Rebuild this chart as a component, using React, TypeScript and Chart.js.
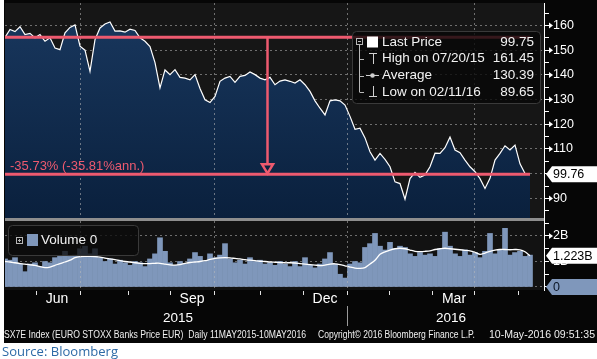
import React, { useEffect, useLayoutEffect, useRef } from 'react';
import { Chart, registerables } from 'chart.js';

Chart.register(...registerables);

// ---------- data ----------
// one value every ~2.5 trading days, 11 May 2015 -> 10 May 2016
const priceValues = [
  155.2, 158.4, 157.5, 159.5, 156.3, 156.8, 155.0, 156.3, 153.6, 155.0,
  150.9, 150.2, 157.0, 159.2, 160.2, 151.6, 150.0, 141.4, 154.3, 159.0,
  160.6, 161.45, 157.7, 157.8, 157.3, 158.5, 158.0, 155.0, 153.6, 151.5,
  145.0, 134.7, 142.0, 140.1, 142.1, 139.0, 138.7, 138.0, 140.1, 134.5,
  129.9, 128.8, 131.3, 137.4, 138.7, 139.4, 137.0, 139.4, 139.8, 141.2,
  140.1, 138.7, 138.0, 139.0, 136.0, 137.5, 138.0, 137.4, 136.7, 138.0,
  136.0, 133.3, 129.5, 126.5, 123.8, 129.5, 129.9, 129.5, 127.8, 123.2,
  118.0, 118.4, 114.5, 108.9, 105.5, 108.2, 105.8, 102.8, 96.7, 96.0,
  89.65, 98.0, 100.5, 98.5, 99.5, 102.8, 108.3, 108.2, 110.5, 114.8,
  109.6, 108.5, 105.5, 102.8, 100.8, 98.0, 94.0, 98.1, 105.5, 108.2,
  111.3, 109.6, 111.6, 104.0, 100.1, 99.75,
];

// volume in billions
const volumeValues = [
  1.1, 1.05, 1.15, 0.9, 0.6, 0.9, 0.95, 0.8, 1.0, 0.95,
  1.15, 1.2, 1.4, 1.2, 1.25, 1.5, 1.6, 1.3, 1.5, 1.15,
  1.0, 1.1, 0.9, 1.05, 0.95, 0.85, 1.0, 0.95, 0.8, 1.1,
  1.3, 1.93, 1.4, 0.95, 0.85, 1.0, 0.9, 1.1, 1.35, 1.2,
  1.0, 1.3, 1.15, 1.25, 1.7, 1.1, 0.95, 1.05, 0.9, 1.15,
  1.0, 1.05, 0.9, 0.95, 0.85, 1.0, 0.9, 0.8, 1.0, 0.8,
  1.15, 0.85, 0.75, 0.9, 1.1, 1.35, 0.9, 0.5, 0.35, 0.9,
  1.0, 0.95, 1.55, 1.7, 2.1, 1.6, 1.45, 1.75, 1.5, 1.6,
  1.55, 1.3, 1.2, 1.35, 1.25, 1.3, 1.2, 1.5, 2.15, 1.6,
  1.3, 1.2, 1.45, 1.25, 1.35, 1.15, 1.4, 2.1, 1.3, 1.45,
  2.3, 1.25, 1.35, 1.4, 1.2, 1.25,
];

// volume moving average in billions
const volumeAvg = [
  1.0, 0.98, 0.95, 0.92, 0.9, 0.87, 0.85, 0.8, 0.76, 0.78,
  0.85, 0.92, 0.98, 1.05, 1.15, 1.19, 1.2, 1.2, 1.19, 1.17,
  1.13, 1.1, 1.07, 1.03, 1.0, 0.98, 0.95, 0.93, 0.92, 0.92,
  0.93, 0.93, 0.9, 0.87, 0.86, 0.88, 0.93, 0.96, 0.98, 1.0,
  1.03, 1.08, 1.12, 1.14, 1.15, 1.14, 1.12, 1.1, 1.07, 1.05,
  1.03, 1.01, 1.0, 0.98, 0.97, 0.96, 0.95, 0.95, 0.94, 0.92,
  0.9, 0.88, 0.86, 0.84, 0.86, 0.9, 0.91, 0.88, 0.83, 0.78,
  0.74, 0.73, 0.76, 0.9, 1.05, 1.28, 1.38, 1.45, 1.5, 1.52,
  1.5, 1.45, 1.4, 1.39, 1.4, 1.42, 1.47, 1.5, 1.52, 1.5,
  1.48, 1.46, 1.44, 1.42, 1.36, 1.28, 1.33, 1.4, 1.45, 1.47,
  1.47, 1.46, 1.47, 1.46, 1.38, 1.223,
];

// positions on the sample index axis
const monthStarts = [6.2, 14.9, 24.6, 33, 41.7, 51, 59.6, 68.3, 76.8, 85.4, 93.7, 102.6];
const quarterStarts = [14.9, 41.7, 68.3, 93.7];
const monthLabels = ['Jun', 'Sep', 'Dec', 'Mar'];
const monthLabelPos = [10.4, 37.4, 64, 89.8];
const yearLabels = ['2015', '2016'];
const yearLabelPos = [34.6, 89.2];
const yearBreak = 68.3;

const legendLabels = ['Last Price', 'High on 07/20/15', 'Average', 'Low on 02/11/16'];
const legendValues = ['99.75', '161.45', '130.39', '89.65'];
const lastPriceTag = '99.76';
const lastPriceTagValue = 99.76;
const changeLabel = '-35.73% (-35.81%ann.)';
const volumeLegend = 'Volume 0';
const volumeAvgTag = '1.223B';
const volumeNowTag = '0';
const volumeNowValue = 0;

const footer1 = 'SX7E Index (EURO STOXX Banks Price EUR)  Daily 11MAY2015-10MAY2016';
const footer2 = 'Copyright\u00A9 2016 Bloomberg Finance L.P.';
const footer3 = '10-May-2016 09:51:35';
const sourceText = 'Source: Bloomberg';

// ---------- styling ----------
const FONT = '"Liberation Sans", Arial, Helvetica, sans-serif';
const X_MIN = 0;
const X_MAX = 107.8;
const PRICE_MIN = 82.06;
const PRICE_MAX = 169.1;
const VOL_MIN = -0.118;
const VOL_MAX = 2.588;
const PINK = '#ee5a6f';
const GRID = 'rgba(185,185,185,0.55)';
const VOL_BLUE = '#7f97bb';
const AXIS_W = 53;

function rr(ctx: CanvasRenderingContext2D, x: number, y: number, w: number, h: number, r: number) {
  ctx.beginPath();
  ctx.moveTo(x + r, y);
  ctx.lineTo(x + w - r, y);
  ctx.quadraticCurveTo(x + w, y, x + w, y + r);
  ctx.lineTo(x + w, y + h - r);
  ctx.quadraticCurveTo(x + w, y + h, x + w - r, y + h);
  ctx.lineTo(x + r, y + h);
  ctx.quadraticCurveTo(x, y + h, x, y + h - r);
  ctx.lineTo(x, y + r);
  ctx.quadraticCurveTo(x, y, x + r, y);
  ctx.closePath();
}

function seg(ctx: CanvasRenderingContext2D, x1: number, y1: number, x2: number, y2: number) {
  ctx.beginPath();
  ctx.moveTo(x1, y1);
  ctx.lineTo(x2, y2);
  ctx.stroke();
}

function drawTag(ctx: CanvasRenderingContext2D, x: number, y: number, fill: string, text: string, color: string) {
  const h = 16;
  const w = 597 - x;
  ctx.save();
  ctx.beginPath();
  ctx.moveTo(x, y);
  ctx.lineTo(x + 6, y - h / 2);
  ctx.lineTo(x + w, y - h / 2);
  ctx.lineTo(x + w, y + h / 2);
  ctx.lineTo(x + 6, y + h / 2);
  ctx.closePath();
  ctx.fillStyle = fill;
  ctx.fill();
  ctx.fillStyle = color;
  ctx.font = `12.5px ${FONT}`;
  ctx.textAlign = 'left';
  ctx.textBaseline = 'middle';
  ctx.fillText(text, x + 7, y + 0.5);
  ctx.restore();
}

function drawPointers(chart: any, test: (v: number) => boolean) {
  const s = chart.scales.y;
  const ctx = chart.ctx as CanvasRenderingContext2D;
  ctx.save();
  ctx.fillStyle = '#ffffff';
  s.ticks.forEach((t: any) => {
    if (!test(t.value)) return;
    const py = s.getPixelForValue(t.value);
    const x = s.left + 5;
    ctx.beginPath();
    ctx.moveTo(x, py - 3);
    ctx.lineTo(x + 4, py);
    ctx.lineTo(x, py + 3);
    ctx.closePath();
    ctx.fill();
  });
  ctx.restore();
}

function drawQuarterLines(chart: any) {
  const { ctx, chartArea: a, scales } = chart;
  ctx.save();
  ctx.strokeStyle = GRID;
  ctx.lineWidth = 1;
  ctx.setLineDash([2, 3]);
  quarterStarts.forEach((q) => {
    const px = Math.round(scales.x.getPixelForValue(q)) + 0.5;
    seg(ctx, px, a.top, px, a.bottom);
  });
  ctx.restore();
}

const pricePlugin = {
  id: 'priceDecor',
  beforeDraw(chart: any) {
    const { ctx, chartArea: a } = chart;
    ctx.save();
    ctx.fillStyle = '#161616';
    ctx.fillRect(a.left, a.top, a.right - a.left, a.bottom - a.top);
    ctx.restore();
  },
  afterDatasetsDraw(chart: any) {
    drawQuarterLines(chart);
  },
  afterDraw(chart: any) {
    const ctx = chart.ctx as CanvasRenderingContext2D;
    const a = chart.chartArea;
    const xs = chart.scales.x;
    const ys = chart.scales.y;
    const n = priceValues.length;
    const x0 = xs.getPixelForValue(0);
    const x1 = xs.getPixelForValue(n - 1);
    const yTop = ys.getPixelForValue(priceValues[0]);
    const yBot = ys.getPixelForValue(priceValues[n - 1]);
    const xm = xs.getPixelForValue((n - 1) / 2);

    ctx.save();
    ctx.strokeStyle = PINK;
    ctx.lineWidth = 2.5;
    seg(ctx, xm, yTop, xm, yBot - 10);
    ctx.beginPath();
    ctx.moveTo(xm - 5.5, yBot - 10);
    ctx.lineTo(xm + 5.5, yBot - 10);
    ctx.lineTo(xm, yBot - 1);
    ctx.closePath();
    ctx.fillStyle = '#0c2240';
    ctx.fill();
    ctx.stroke();
    ctx.lineWidth = 3;
    seg(ctx, x0, yTop, x1, yTop);
    seg(ctx, x0, yBot, x1, yBot);
    ctx.fillStyle = PINK;
    ctx.font = `13px ${FONT}`;
    ctx.textAlign = 'left';
    ctx.textBaseline = 'alphabetic';
    ctx.fillText(changeLabel, a.left + 5, yBot - 4.5);
    ctx.restore();

    // legend box
    ctx.save();
    rr(ctx, 352.5, 31.5, 188, 72, 4);
    ctx.fillStyle = 'rgba(8,8,8,0.8)';
    ctx.fill();
    ctx.strokeStyle = '#3a3a3a';
    ctx.lineWidth = 1;
    ctx.stroke();
    const rowsY = [42, 58.5, 75.5, 92];
    ctx.strokeStyle = '#b8b8b8';
    ctx.lineWidth = 1;
    // collapse box
    ctx.strokeRect(356.5, 38.5, 6, 6);
    seg(ctx, 358, 41.5, 361, 41.5);
    // tree
    seg(ctx, 359.5, 45, 359.5, rowsY[3]);
    [rowsY[1], rowsY[2], rowsY[3]].forEach((ry) => seg(ctx, 359.5, Math.round(ry) + 0.5, 364, Math.round(ry) + 0.5));
    // white square
    ctx.fillStyle = '#ffffff';
    ctx.fillRect(367, 36.5, 11, 11);
    // high icon
    ctx.strokeStyle = '#d0d0d0';
    seg(ctx, 369, 53.5, 377, 53.5);
    seg(ctx, 373.5, 53.5, 373.5, 64);
    // average icon
    seg(ctx, 366, 75.5, 379, 75.5);
    ctx.beginPath();
    ctx.arc(372.5, 75.5, 2.3, 0, Math.PI * 2);
    ctx.fillStyle = '#d0d0d0';
    ctx.fill();
    // low icon
    seg(ctx, 373.5, 86, 373.5, 96.5);
    seg(ctx, 369, 96.5, 377, 96.5);
    ctx.fillStyle = '#f2f2f2';
    ctx.font = `13.5px ${FONT}`;
    ctx.textBaseline = 'middle';
    legendLabels.forEach((lab, i) => {
      ctx.textAlign = 'left';
      ctx.fillText(lab, 382, rowsY[i]);
      ctx.textAlign = 'right';
      ctx.fillText(legendValues[i], 534, rowsY[i]);
    });
    ctx.restore();

    drawPointers(chart, (v) => v % 10 === 0);
    drawTag(ctx, ys.right - AXIS_W + 2, ys.getPixelForValue(lastPriceTagValue), '#ffffff', lastPriceTag, '#000000');
  },
};

const volumePlugin = {
  id: 'volumeDecor',
  beforeDraw(chart: any) {
    const { ctx, chartArea: a } = chart;
    ctx.save();
    ctx.fillStyle = '#121212';
    ctx.fillRect(a.left, a.top, a.right - a.left, a.bottom - a.top);
    ctx.fillStyle = '#8e8e8e';
    ctx.fillRect(a.left, 0, a.right - a.left, a.top);
    ctx.fillStyle = '#ffffff';
    ctx.fillRect(Math.round(a.right), 0, 1, a.top);
    ctx.restore();
  },
  afterDatasetsDraw(chart: any) {
    drawQuarterLines(chart);
  },
  afterDraw(chart: any) {
    const ctx = chart.ctx as CanvasRenderingContext2D;
    const a = chart.chartArea;
    const xs = chart.scales.x;
    const ys = chart.scales.y;

    // legend
    ctx.save();
    rr(ctx, 8.5, 7.5, 130, 30, 4);
    ctx.fillStyle = 'rgba(10,10,10,0.78)';
    ctx.fill();
    ctx.strokeStyle = '#3a3a3a';
    ctx.lineWidth = 1;
    ctx.stroke();
    ctx.strokeStyle = '#b8b8b8';
    ctx.strokeRect(16.5, 19.5, 6, 6);
    seg(ctx, 18, 22.5, 21, 22.5);
    seg(ctx, 19.5, 21, 19.5, 24);
    ctx.fillStyle = VOL_BLUE;
    ctx.fillRect(27, 16, 11, 12);
    ctx.fillStyle = '#f2f2f2';
    ctx.font = `13.5px ${FONT}`;
    ctx.textAlign = 'left';
    ctx.textBaseline = 'middle';
    ctx.fillText(volumeLegend, 41, 22.5);
    ctx.restore();

    drawPointers(chart, (v) => v === 2);
    const tagX = ys.right - AXIS_W + 2;
    drawTag(ctx, tagX, ys.getPixelForValue(volumeAvg[volumeAvg.length - 1]), '#ffffff', volumeAvgTag, '#000000');
    drawTag(ctx, tagX, ys.getPixelForValue(volumeNowValue), VOL_BLUE, volumeNowTag, '#0b1626');

    // time axis
    ctx.save();
    ctx.strokeStyle = '#e0e0e0';
    ctx.lineWidth = 1;
    monthStarts.forEach((m) => {
      const px = Math.round(xs.getPixelForValue(m)) + 0.5;
      seg(ctx, px, a.bottom + 1, px, a.bottom + 5);
    });
    ctx.strokeStyle = '#9a9a9a';
    const yb = Math.round(xs.getPixelForValue(yearBreak)) + 0.5;
    seg(ctx, yb, a.bottom + 16, yb, a.bottom + 36);
    ctx.fillStyle = '#ffffff';
    ctx.textAlign = 'center';
    ctx.textBaseline = 'middle';
    ctx.font = `14px ${FONT}`;
    monthLabels.forEach((m, i) => ctx.fillText(m, xs.getPixelForValue(monthLabelPos[i]), a.bottom + 9));
    ctx.font = `13.5px ${FONT}`;
    yearLabels.forEach((y, i) => ctx.fillText(y, xs.getPixelForValue(yearLabelPos[i]), a.bottom + 28));
    ctx.restore();
  },
};

function axisFit(scale: any) {
  scale.width = AXIS_W;
  scale.paddingTop = 0;
  scale.paddingBottom = 0;
  scale.paddingLeft = 0;
  scale.paddingRight = 0;
}

function FitText(props: { text: string; left: number; top: number; width: number; font: string; color: string }) {
  const ref = useRef<HTMLSpanElement>(null);
  useLayoutEffect(() => {
    const el = ref.current;
    if (!el) return;
    el.style.transform = 'none';
    const w = el.getBoundingClientRect().width;
    if (w > 0) el.style.transform = `scaleX(${props.width / w})`;
  }, [props.text, props.width]);
  return (
    <span
      ref={ref}
      style={{
        position: 'absolute',
        left: props.left,
        top: props.top,
        whiteSpace: 'pre',
        transformOrigin: '0 0',
        font: props.font,
        color: props.color,
        lineHeight: 1,
      }}
    >
      {props.text}
    </span>
  );
}

export default function App() {
  const priceRef = useRef<HTMLCanvasElement>(null);
  const volRef = useRef<HTMLCanvasElement>(null);

  useEffect(() => {
    const priceChart = new Chart(priceRef.current as HTMLCanvasElement, {
      type: 'line',
      data: {
        datasets: [
          {
            data: priceValues.map((v, i) => ({ x: i, y: v })),
            borderColor: '#ffffff',
            borderWidth: 1.2,
            pointRadius: 0,
            tension: 0,
            fill: 'start',
            backgroundColor: (c: any) => {
              const { chart } = c;
              const area = chart.chartArea;
              if (!area) return '#0f2a4c';
              const g = chart.ctx.createLinearGradient(0, area.top, 0, area.bottom);
              g.addColorStop(0, '#19385f');
              g.addColorStop(1, '#0a203d');
              return g;
            },
          },
        ],
      },
      options: {
        animation: false,
        responsive: false,
        maintainAspectRatio: false,
        layout: { padding: { left: 5, top: 3, right: 0, bottom: 0 } },
        plugins: { legend: { display: false }, tooltip: { enabled: false } },
        scales: {
          x: { type: 'linear', min: X_MIN, max: X_MAX, display: false },
          y: {
            position: 'right',
            min: PRICE_MIN,
            max: PRICE_MAX,
            z: 1,
            afterFit: axisFit,
            ticks: {
              stepSize: 5,
              includeBounds: false,
              autoSkip: false,
              color: '#ffffff',
              padding: 4,
              font: { family: FONT, size: 12.5 },
              callback: (v: any) => (Number(v) % 10 === 0 ? String(v) : ''),
            },
            grid: {
              color: (c: any) => (c.tick && c.tick.value % 10 === 0 ? GRID : 'rgba(0,0,0,0)'),
              tickColor: '#ffffff',
              tickLength: 5,
              lineWidth: 1,
            },
            border: { display: true, color: '#ffffff', width: 1, dash: [2, 3] },
          },
        },
      } as any,
      plugins: [pricePlugin],
    });

    const volChart = new Chart(volRef.current as HTMLCanvasElement, {
      type: 'bar',
      data: {
        datasets: [
          {
            type: 'line',
            data: volumeAvg.map((v, i) => ({ x: i, y: v })),
            borderColor: '#ffffff',
            borderWidth: 1.3,
            pointRadius: 0,
            tension: 0.3,
            order: 0,
          } as any,
          {
            type: 'bar',
            data: volumeValues.map((v, i) => ({ x: i, y: v })),
            backgroundColor: VOL_BLUE,
            barPercentage: 1,
            categoryPercentage: 1,
            borderWidth: 0,
            order: 1,
          } as any,
        ],
      },
      options: {
        animation: false,
        responsive: false,
        maintainAspectRatio: false,
        layout: { padding: { left: 5, top: 3, right: 0, bottom: 53 } },
        plugins: { legend: { display: false }, tooltip: { enabled: false } },
        scales: {
          x: { type: 'linear', min: X_MIN, max: X_MAX, offset: false, display: false },
          y: {
            position: 'right',
            min: VOL_MIN,
            max: VOL_MAX,
            z: 1,
            afterFit: axisFit,
            ticks: {
              stepSize: 0.5,
              includeBounds: false,
              autoSkip: false,
              color: '#ffffff',
              padding: 4,
              font: { family: FONT, size: 12.5 },
              callback: (v: any) => {
                const n = Number(v);
                if (n === 2) return '2B';
                if (n === 1) return '1B';
                if (n === 0) return '0';
                return '';
              },
            },
            grid: {
              color: (c: any) => (c.tick && Number.isInteger(c.tick.value) ? GRID : 'rgba(0,0,0,0)'),
              tickColor: '#ffffff',
              tickLength: 5,
              lineWidth: 1,
            },
            border: { display: true, color: '#ffffff', width: 1, dash: [2, 3] },
          },
        },
      } as any,
      plugins: [volumePlugin],
    });

    return () => {
      priceChart.destroy();
      volChart.destroy();
    };
  }, []);

  return (
    <div style={{ position: 'absolute', left: 0, top: 0, width: 597, height: 359, background: '#ffffff', overflow: 'hidden' }}>
      <div style={{ position: 'absolute', left: 4, top: 0, width: 593, height: 343, background: '#060606' }} />
      <canvas ref={priceRef} width={597} height={218} style={{ position: 'absolute', left: 0, top: 0, width: 597, height: 218 }} />
      <canvas ref={volRef} width={597} height={125} style={{ position: 'absolute', left: 0, top: 218, width: 597, height: 125 }} />
      <FitText text={footer1} left={4} top={330} width={302} font={`10px ${FONT}`} color="#f0f0f0" />
      <FitText text={footer2} left={318} top={330} width={157} font={`10px ${FONT}`} color="#f0f0f0" />
      <FitText text={footer3} left={489} top={330} width={106} font={`10px ${FONT}`} color="#f0f0f0" />
      <FitText text={sourceText} left={2} top={345} width={116} font={`13px "Open Sans", sans-serif`} color="#2d6aa6" />
    </div>
  );
}
